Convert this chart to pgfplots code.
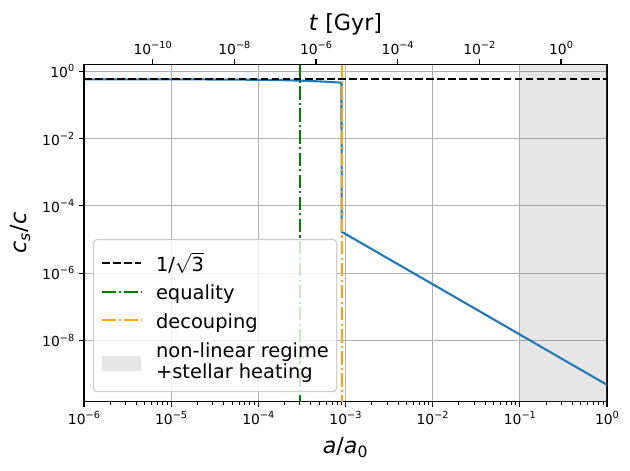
\documentclass[border=0pt]{standalone}
\usepackage{fontspec}
\setmainfont{DejaVu Sans}
\usepackage{pgfplots}
\pgfplotsset{compat=1.18}
\definecolor{mplblue}{RGB}{31,119,180}
\definecolor{mplgreen}{RGB}{0,128,0}
\definecolor{mplorange}{RGB}{255,165,0}
\definecolor{gridgray}{RGB}{176,176,176}
\definecolor{legedge}{RGB}{204,204,204}
\newcommand\pw[1]{10\raisebox{0.42em}{\fontsize{7bp}{8bp}\selectfont #1}}
\tikzset{mpldashdot/.style={dash pattern=on 9.6bp off 2.4bp on 1.5bp off 2.4bp},
  legrow/.style={text height=13.45bp, text depth=7.25bp}}
\pgfplotsset{
  mplcommon/.style={
    scale only axis, width=376.6bp, height=243.1bp,
    tick align=outside,
    major tick length=3.5bp, minor tick length=2bp,
    every major tick/.append style={line width=0.8bp, black},
    every minor tick/.append style={line width=0.6bp, black},
    axis line style={line width=0.8bp},
    tick label style={font=\fontsize{10bp}{12bp}\selectfont},
    label style={font=\fontsize{16bp}{19bp}\selectfont},
  }
}
\begin{document}
\begin{tikzpicture}
\begin{axis}[
  mplcommon,
  xmode=log, ymode=log,
  xmin=1e-6, xmax=1, ymin=1.49e-10, ymax=1.615,
  xtick={1e-6,1e-5,1e-4,1e-3,1e-2,1e-1,1},
  xticklabels={\pw{−6},\pw{−5},\pw{−4},\pw{−3},\pw{−2},\pw{−1},\pw{0}},
  ytick={1,1e-2,1e-4,1e-6,1e-8},
  yticklabels={\pw{0},\pw{−2},\pw{−4},\pw{−6},\pw{−8}},
  yminorticks=false,
  xtick pos=bottom, ytick pos=left,
  grid=major, major grid style={gridgray, line width=0.8bp},
  xlabel={\textit{a}/\textit{a}\textsubscript{0}},
  ylabel={\textit{c}\textsubscript{\textit{s}}/\textit{c}},
  xlabel style={at={(axis description cs:0.5,-0.153)}, anchor=base},
  ylabel style={at={(axis description cs:-0.1097,0.5)}, anchor=base},
  legend image code/.code={\draw[#1] (0bp,2.9bp) -- (28bp,2.9bp);},
  legend cell align=left,
  legend style={at={(axis description cs:0.0172,0.0287)}, anchor=south west,
    fill=white, fill opacity=0.8, draw opacity=1, text opacity=1,
    draw=legedge, line width=0.8bp, rounded corners=2.5bp,
    font=\fontsize{14bp}{15.4bp}\selectfont,
    inner xsep=5.5bp, inner ysep=1.8bp, row sep=0bp,
    nodes={inner sep=0pt},
    /tikz/every odd column/.append style={column sep=10bp}},
]
% non-linear regime shading
\addplot[fill=gray, fill opacity=0.2, draw=none, forget plot]
  coordinates {(0.1,1e-12) (1,1e-12) (1,10) (0.1,10)} \closedcycle;
% sound speed
\addplot[mplblue, line width=1.5bp, forget plot] coordinates {
  (1e-6,0.5772) (1e-5,0.5755) (3e-5,0.5718) (1e-4,0.5594) (2e-4,0.543)
  (3e-4,0.528) (4e-4,0.514) (5e-4,0.501) (6e-4,0.4895) (7e-4,0.4784)
  (8e-4,0.468) (9.0e-4,0.4583) (9.03e-4,1.7e-5) (1e-2,4.7e-7)
  (1e-1,1.5e-8) (1,4.8e-10)
};
\addlegendimage{empty legend}
\addlegendentry[text height=7.55bp, text depth=0bp]{}
\addplot[black, line width=1.5bp, dash pattern=on 5.55bp off 2.4bp]
  coordinates {(1e-6,0.57735) (1,0.57735)};
\addlegendentry[legrow]{1/\smash{$\sqrt{\mathrm{3}}$}}
\addplot[mplgreen, line width=1.5bp, mpldashdot]
  coordinates {(3.0e-4,1e-12) (3.0e-4,10)};
\addlegendentry[legrow]{equality}
\addplot[mplorange, line width=1.5bp, mpldashdot]
  coordinates {(9.05e-4,1e-12) (9.05e-4,10)};
\addlegendentry[legrow]{decouping}
\addlegendimage{legend image code/.code={\fill[gray, fill opacity=0.2, draw=none, sharp corners] (0bp,-5.4bp) rectangle (28bp,5.4bp);}}
\addlegendentry[text height=21.65bp, text depth=14.65bp]{\begin{tabular}{@{}l@{}}non-linear regime\\+stellar heating\end{tabular}}
\end{axis}
\begin{axis}[
  mplcommon,
  xmode=log,
  xmin=2.08e-12, xmax=13.37, ymin=0, ymax=1,
  axis x line*=top, axis y line=none,
  xtick={1e-10,1e-8,1e-6,1e-4,1e-2,1},
  xticklabels={\pw{−10},\pw{−8},\pw{−6},\pw{−4},\pw{−2},\pw{0}},
  xminorticks=false,
  xlabel={\textit{t} [Gyr]},
  xlabel style={at={(axis description cs:0.5,1.0987)}, anchor=base},
]
\end{axis}
\path (-60.48bp,-49.18bp) rectangle (393.16bp,289.4bp);
\end{tikzpicture}
\end{document}
